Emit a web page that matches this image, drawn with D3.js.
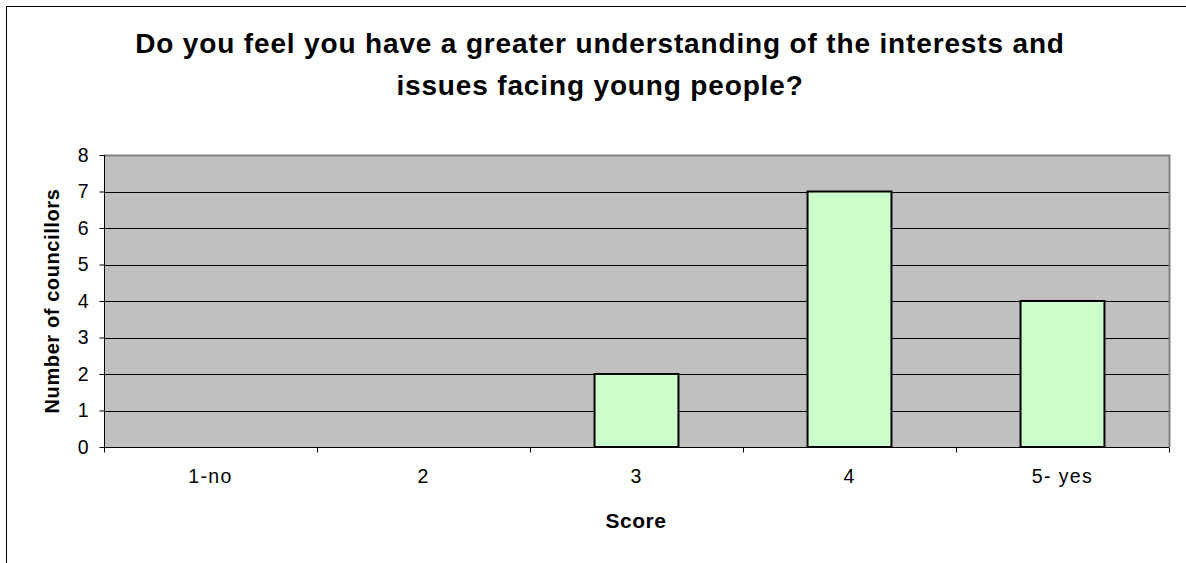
<!DOCTYPE html>
<html><head><meta charset="utf-8">
<script src="https://cdn.jsdelivr.net/npm/d3@7"></script>
<style>body{margin:0;background:#fff;}svg{display:block;font-family:"Liberation Sans",Arial,sans-serif;}</style>
</head><body><svg id="c" width="1186" height="563"></svg>
<script>
const categories = ["1-no","2","3","4","5- yes"];
const values = [0,0,2,7,4];
const yTicks = [0,1,2,3,4,5,6,7,8];
const titleLines = ["Do you feel you have a greater understanding of the interests and","issues facing young people?"];
const xTitle = "Score";
const yTitle = "Number of councillors";

const svg = d3.select("#c");
svg.append("rect").attr("x",6.5).attr("y",6.5).attr("width",1200).attr("height",600)
  .attr("fill","#fff").attr("stroke","#000").attr("stroke-width",1);

const L=104, R=1169, T=155, B=447;
const x = d3.scaleBand().domain(categories).range([L,R]).paddingInner(0.606).paddingOuter(0.303);
const xb = d3.scaleBand().domain(categories).range([L,R]);
const y = d3.scaleLinear().domain([0,8]).range([B,T]);

svg.append("rect").attr("x",L).attr("y",T).attr("width",R-L).attr("height",B-T).attr("fill","#c0c0c0");
svg.append("g").selectAll("line").data(yTicks.filter(d=>d>0 && d<8)).join("line")
  .attr("x1",L).attr("x2",R).attr("y1",d=>Math.round(y(d))+0.5).attr("y2",d=>Math.round(y(d))+0.5)
  .attr("stroke","#000").attr("stroke-width",1);
svg.append("path").attr("d",`M${L},${T+0.5}H${R+0.5}V${B}`).attr("fill","none").attr("stroke","#808080").attr("stroke-width",2);

svg.append("g").selectAll("rect").data(values.map((v,i)=>({c:categories[i],v}))).join("rect")
  .filter(d=>d.v>0)
  .attr("x",d=>x(d.c)).attr("width",x.bandwidth())
  .attr("y",d=>y(d.v)).attr("height",d=>y(0)-y(d.v))
  .attr("fill","#ccffcc").attr("stroke","#000").attr("stroke-width",2);

const ya = d3.axisLeft(y).tickValues(yTicks).tickSize(5).tickPadding(11);
const gy = svg.append("g").attr("transform",`translate(${L+0.5},0)`).call(ya);
gy.attr("font-size",null).attr("font-family",null);
gy.select(".domain").attr("d",`M0,${T}V${B+5}`).attr("stroke","#000");
gy.selectAll(".tick line").attr("stroke","#000");
gy.selectAll("text").style("font-size","19.5px").attr("fill","#000");

const xa = d3.axisBottom(xb).tickSize(0).tickPadding(22);
const gx = svg.append("g").attr("transform",`translate(0,${B+0.5})`).call(xa);
gx.attr("font-size",null).attr("font-family",null);
gx.select(".domain").attr("d",`M${L},0H${R}`).attr("stroke","#000");
gx.selectAll("text").style("font-size","19.5px").style("letter-spacing","1.4px").attr("fill","#000");
gx.append("g").selectAll("line").data(d3.range(categories.length+1)).join("line")
  .attr("x1",i=>Math.round(L+xb.step()*i)+0.5).attr("x2",i=>Math.round(L+xb.step()*i)+0.5)
  .attr("y1",0).attr("y2",5).attr("stroke","#000");

svg.append("g").selectAll("text").data(titleLines).join("text")
  .attr("x",600).attr("y",(d,i)=>53+i*42).attr("text-anchor","middle")
  .style("font-size","28px").attr("font-weight","bold").style("letter-spacing","0.85px").text(d=>d);
svg.append("text").attr("x",636).attr("y",528).attr("text-anchor","middle")
  .style("font-size","21px").attr("font-weight","bold").style("letter-spacing","0.5px").text(xTitle);
svg.append("text").attr("transform",`translate(59,${(T+B)/2}) rotate(-90)`).attr("text-anchor","middle")
  .style("font-size","20px").attr("font-weight","bold").style("letter-spacing","0.6px").text(yTitle);
</script></body></html>
